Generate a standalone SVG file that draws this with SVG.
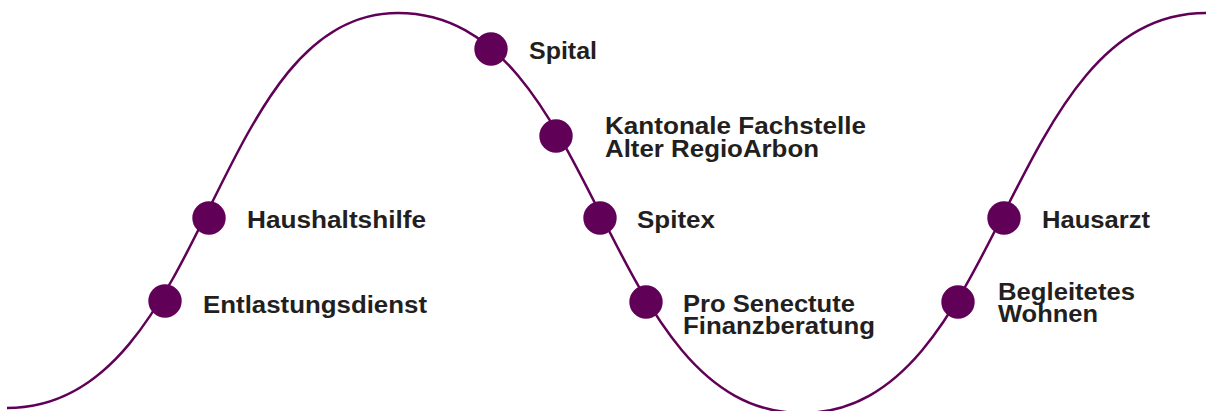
<svg xmlns="http://www.w3.org/2000/svg" width="1208" height="411" viewBox="0 0 1208 411">
  <style>
    .curve { fill: none; stroke: #600057; stroke-width: 2.5; }
    .dot { fill: #600057; }
    .lbl { font-family: "Liberation Sans", Arial, sans-serif; font-weight: bold; font-size: 23.5px; fill: #231F20; }
  </style>
  <rect width="1208" height="411" fill="#ffffff"/>
  <g id="connectors">
    <path class="curve" d="M 7 408 C 210 408 210 13 398 13 C 600 13 600 413 802 413 C 1004 413 1004 13 1206 13"/>
  </g>
  <g id="node-entlastungsdienst">
    <circle class="dot" cx="165" cy="301" r="16.7"/>
    <text class="lbl" x="203" y="313" textLength="224" lengthAdjust="spacingAndGlyphs">Entlastungsdienst</text>
  </g>
  <g id="node-haushaltshilfe">
    <circle class="dot" cx="209" cy="218" r="16.7"/>
    <text class="lbl" x="247" y="228" textLength="179" lengthAdjust="spacingAndGlyphs">Haushaltshilfe</text>
  </g>
  <g id="node-spital">
    <circle class="dot" cx="491" cy="49" r="16.7"/>
    <text class="lbl" x="529" y="58.5" textLength="68" lengthAdjust="spacingAndGlyphs">Spital</text>
  </g>
  <g id="node-kantonale">
    <circle class="dot" cx="556" cy="136" r="16.7"/>
    <text class="lbl" x="605" y="134" textLength="261" lengthAdjust="spacingAndGlyphs">Kantonale Fachstelle</text>
    <text class="lbl" x="605" y="156.5" textLength="214" lengthAdjust="spacingAndGlyphs">Alter RegioArbon</text>
  </g>
  <g id="node-spitex">
    <circle class="dot" cx="600" cy="218" r="16.7"/>
    <text class="lbl" x="637" y="228" textLength="78" lengthAdjust="spacingAndGlyphs">Spitex</text>
  </g>
  <g id="node-prosenectute">
    <circle class="dot" cx="646" cy="302" r="16.7"/>
    <text class="lbl" x="683" y="311.5" textLength="172" lengthAdjust="spacingAndGlyphs">Pro Senectute</text>
    <text class="lbl" x="683" y="333.5" textLength="192" lengthAdjust="spacingAndGlyphs">Finanzberatung</text>
  </g>
  <g id="node-begleitetes">
    <circle class="dot" cx="958" cy="302" r="16.7"/>
    <text class="lbl" x="998" y="300" textLength="137" lengthAdjust="spacingAndGlyphs">Begleitetes</text>
    <text class="lbl" x="998" y="322" textLength="100" lengthAdjust="spacingAndGlyphs">Wohnen</text>
  </g>
  <g id="node-hausarzt">
    <circle class="dot" cx="1004" cy="218" r="16.7"/>
    <text class="lbl" x="1042" y="228" textLength="108" lengthAdjust="spacingAndGlyphs">Hausarzt</text>
  </g>
</svg>
